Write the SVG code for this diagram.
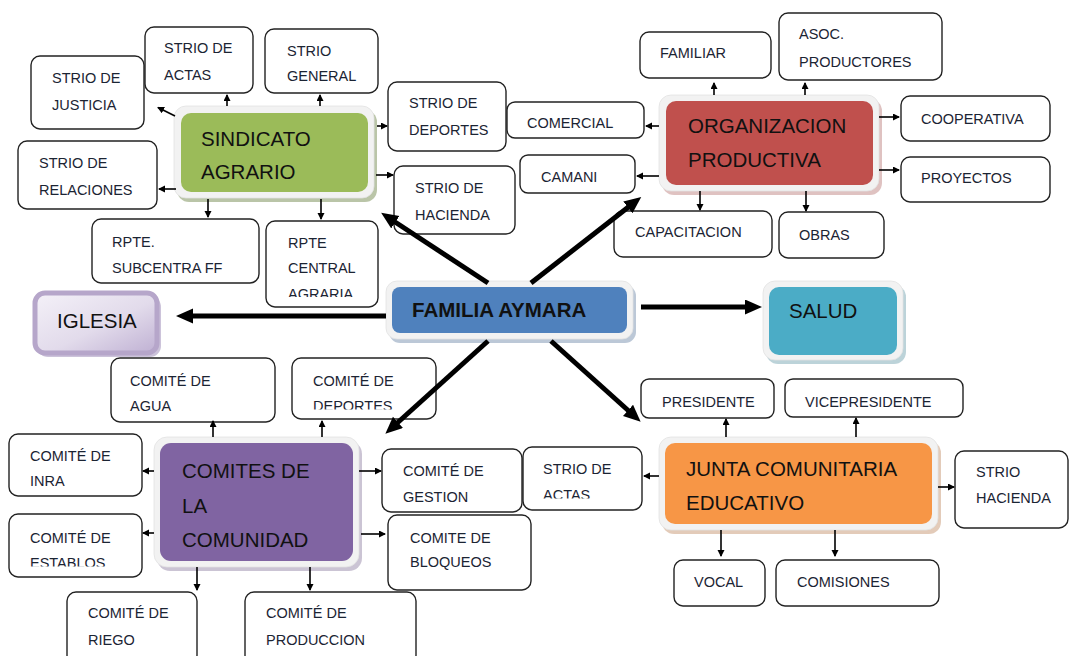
<svg xmlns="http://www.w3.org/2000/svg" width="1071" height="656" viewBox="0 0 1071 656">
<style>
.box{fill:#fff;stroke:#222;stroke-width:1.4}
.t{font-family:"Liberation Sans",Arial,sans-serif;font-size:14.5px;fill:#1b2433}
.m{font-family:"Liberation Sans",Arial,sans-serif;font-size:20.5px;fill:#111}
.frame{fill:#f2f2f2;stroke:#e2e2e2;stroke-width:0.8}
.sh{opacity:0.6}
.sa{stroke:#000;stroke-width:1.6;fill:none;marker-end:url(#sm)}
.ba{stroke:#000;stroke-width:5;fill:none;marker-end:url(#bm)}
</style>
<defs>
<marker id="sm" markerUnits="userSpaceOnUse" markerWidth="8" markerHeight="8" refX="6" refY="3.5" orient="auto"><path d="M0,0 L7,3.5 L0,7 z" fill="#000"/></marker>
<marker id="bm" markerUnits="userSpaceOnUse" markerWidth="18" markerHeight="16" refX="4" refY="7.5" orient="auto"><path d="M0,0 L17,7.5 L0,15 z" fill="#000"/></marker>
<linearGradient id="ig" x1="0" y1="0" x2="1" y2="1"><stop offset="0" stop-color="#f4f1f8"/><stop offset="0.55" stop-color="#e2dbeb"/><stop offset="1" stop-color="#bfb0d3"/></linearGradient>
<clipPath id="c1"><rect x="260" y="200" width="130" height="97"/></clipPath>
<clipPath id="c2"><rect x="290" y="350" width="150" height="59.5"/></clipPath>
<clipPath id="c3"><rect x="5" y="505" width="140" height="61.5"/></clipPath>
<clipPath id="c4"><rect x="520" y="440" width="125" height="58.5"/></clipPath>
</defs>

<!-- SINDICATO AGRARIO -->
<g id="sindicato">
<rect class="sh" x="177" y="110" width="200" height="92" rx="12" fill="#8c9e6e"/>
<rect class="frame" x="174" y="106" width="200" height="92" rx="12"/>
<rect x="181" y="113" width="187" height="79" rx="10" fill="#9bbb59"/>
<text class="m" x="201" y="146">SINDICATO</text>
<text class="m" x="201" y="179">AGRARIO</text>
</g>
<g id="s-justicia"><rect class="box" x="31" y="56" width="113" height="73" rx="9"/><text class="t" x="52" y="83">STRIO DE</text><text class="t" x="52" y="110">JUSTICIA</text></g>
<g id="s-actas"><rect class="box" x="145" y="27" width="108" height="66" rx="9"/><text class="t" x="164" y="53">STRIO DE</text><text class="t" x="164" y="80">ACTAS</text></g>
<g id="s-general"><rect class="box" x="265" y="29" width="113" height="64" rx="9"/><text class="t" x="287" y="56">STRIO</text><text class="t" x="287" y="81">GENERAL</text></g>
<g id="s-deportes"><rect class="box" x="388" y="82" width="118" height="69" rx="9"/><text class="t" x="409" y="108">STRIO DE</text><text class="t" x="409" y="135">DEPORTES</text></g>
<g id="s-relaciones"><rect class="box" x="18" y="141" width="139" height="68" rx="9"/><text class="t" x="39" y="168">STRIO DE</text><text class="t" x="39" y="195">RELACIONES</text></g>
<g id="s-hacienda"><rect class="box" x="394" y="166" width="121" height="68" rx="9"/><text class="t" x="415" y="193">STRIO DE</text><text class="t" x="415" y="220">HACIENDA</text></g>
<g id="s-subcentra"><rect class="box" x="92" y="219" width="167" height="64" rx="9"/><text class="t" x="112" y="247">RPTE.</text><text class="t" x="112" y="273">SUBCENTRA FF</text></g>
<g id="s-central"><rect class="box" x="266" y="221" width="112" height="86" rx="9"/><text class="t" x="288" y="248">RPTE</text><text class="t" x="288" y="273">CENTRAL</text><text class="t" x="288" y="299" clip-path="url(#c1)">AGRARIA</text></g>

<!-- ORGANIZACION PRODUCTIVA -->
<g id="organizacion">
<rect class="sh" x="662" y="99" width="220" height="96" rx="12" fill="#c99a98"/>
<rect class="frame" x="659" y="95" width="220" height="96" rx="12"/>
<rect x="666" y="101" width="207" height="84" rx="10" fill="#c0504d"/>
<text class="m" x="688" y="133">ORGANIZACION</text>
<text class="m" x="688" y="167">PRODUCTIVA</text>
</g>
<g id="o-familiar"><rect class="box" x="640" y="32" width="131" height="46" rx="9"/><text class="t" x="660" y="58">FAMILIAR</text></g>
<g id="o-asoc"><rect class="box" x="779" y="13" width="163" height="67" rx="9"/><text class="t" x="799" y="39">ASOC.</text><text class="t" x="799" y="67">PRODUCTORES</text></g>
<g id="o-comercial"><rect class="box" x="507" y="102" width="137" height="36" rx="8"/><text class="t" x="527" y="128">COMERCIAL</text></g>
<g id="o-camani"><rect class="box" x="520" y="155" width="115" height="38" rx="8"/><text class="t" x="541" y="182">CAMANI</text></g>
<g id="o-cooperativa"><rect class="box" x="901" y="96" width="149" height="45" rx="9"/><text class="t" x="921" y="124">COOPERATIVA</text></g>
<g id="o-proyectos"><rect class="box" x="901" y="157" width="149" height="45" rx="9"/><text class="t" x="921" y="183">PROYECTOS</text></g>
<g id="o-capacitacion"><rect class="box" x="614" y="211" width="158" height="46" rx="9"/><text class="t" x="635" y="237">CAPACITACION</text></g>
<g id="o-obras"><rect class="box" x="779" y="212" width="105" height="46" rx="9"/><text class="t" x="799" y="240">OBRAS</text></g>

<!-- FAMILIA AYMARA -->
<g id="familia">
<rect class="sh" x="389" y="285" width="247" height="58" rx="11" fill="#8fa3bd"/>
<rect class="frame" x="386" y="281" width="247" height="58" rx="11"/>
<rect x="392" y="287" width="235" height="46" rx="8" fill="#4f81bd"/>
<text class="m" x="412" y="317" font-weight="bold" font-size="21">FAMILIA AYMARA</text>
</g>

<!-- SALUD -->
<g id="salud">
<rect class="sh" x="766" y="285" width="140" height="79" rx="12" fill="#8fb5c0"/>
<rect class="frame" x="763" y="281" width="140" height="79" rx="12"/>
<rect x="769" y="287" width="128" height="68" rx="10" fill="#4bacc6"/>
<text class="m" x="789" y="318">SALUD</text>
</g>

<!-- IGLESIA -->
<g id="iglesia">
<rect x="37" y="296" width="124" height="61" rx="11" fill="#8e7bac" opacity="0.45"/>
<rect x="35" y="293" width="122" height="60" rx="10" fill="url(#ig)" stroke="#b6a6ca" stroke-width="5"/>
<text class="m" x="57" y="328">IGLESIA</text>
</g>

<!-- COMITES DE LA COMUNIDAD -->
<g id="comites">
<rect class="sh" x="157" y="441" width="205" height="130" rx="13" fill="#a89cb8"/>
<rect class="frame" x="154" y="437" width="205" height="130" rx="13"/>
<rect x="160" y="443" width="193" height="118" rx="11" fill="#8064a2"/>
<text class="m" x="182" y="478">COMITES DE</text>
<text class="m" x="182" y="513">LA</text>
<text class="m" x="182" y="547">COMUNIDAD</text>
</g>
<g id="c-agua"><rect class="box" x="111" y="358" width="164" height="64" rx="9"/><text class="t" x="130" y="386">COMITÉ DE</text><text class="t" x="130" y="411">AGUA</text></g>
<g id="c-deportes"><rect class="box" x="292" y="358" width="144" height="61" rx="9"/><text class="t" x="313" y="386">COMITÉ DE</text><text class="t" x="313" y="411" clip-path="url(#c2)">DEPORTES</text></g>
<g id="c-inra"><rect class="box" x="9" y="434" width="133" height="62" rx="9"/><text class="t" x="30" y="461">COMITÉ DE</text><text class="t" x="30" y="486">INRA</text></g>
<g id="c-establos"><rect class="box" x="9" y="514" width="133" height="63" rx="9"/><text class="t" x="30" y="543">COMITÉ DE</text><text class="t" x="30" y="568" clip-path="url(#c3)">ESTABLOS</text></g>
<g id="c-gestion"><rect class="box" x="382" y="449" width="140" height="63" rx="9"/><text class="t" x="403" y="476">COMITÉ DE</text><text class="t" x="403" y="502">GESTION</text></g>
<g id="c-bloqueos"><rect class="box" x="388" y="515" width="143" height="75" rx="9"/><text class="t" x="410" y="543">COMITE DE</text><text class="t" x="410" y="567">BLOQUEOS</text></g>
<g id="c-riego"><rect class="box" x="67" y="592" width="130" height="72" rx="9"/><text class="t" x="88" y="618">COMITÉ DE</text><text class="t" x="88" y="645">RIEGO</text></g>
<g id="c-produccion"><rect class="box" x="245" y="592" width="171" height="72" rx="9"/><text class="t" x="266" y="618">COMITÉ DE</text><text class="t" x="266" y="645">PRODUCCION</text></g>

<!-- JUNTA COMUNITARIA EDUCATIVO -->
<g id="junta">
<rect class="sh" x="662" y="441" width="279" height="93" rx="12" fill="#d0a88a"/>
<rect class="frame" x="659" y="437" width="279" height="93" rx="12"/>
<rect x="665" y="443" width="267" height="81" rx="10" fill="#f79646"/>
<text class="m" x="686" y="476">JUNTA COMUNITARIA</text>
<text class="m" x="686" y="510">EDUCATIVO</text>
</g>
<g id="j-presidente"><rect class="box" x="641" y="379" width="133" height="39" rx="8"/><text class="t" x="662" y="407">PRESIDENTE</text></g>
<g id="j-vicepresidente"><rect class="box" x="785" y="379" width="178" height="38" rx="8"/><text class="t" x="805" y="407">VICEPRESIDENTE</text></g>
<g id="j-actas"><rect class="box" x="523" y="447" width="119" height="63" rx="9"/><text class="t" x="543" y="474">STRIO DE</text><text class="t" x="543" y="500" clip-path="url(#c4)">ACTAS</text></g>
<g id="j-hacienda"><rect class="box" x="955" y="451" width="113" height="77" rx="9"/><text class="t" x="976" y="477">STRIO</text><text class="t" x="976" y="503">HACIENDA</text></g>
<g id="j-vocal"><rect class="box" x="674" y="560" width="91" height="46" rx="9"/><text class="t" x="694" y="587">VOCAL</text></g>
<g id="j-comisiones"><rect class="box" x="776" y="560" width="163" height="46" rx="9"/><text class="t" x="797" y="587">COMISIONES</text></g>

<!-- connectors -->
<g id="connectors">
<line class="sa" x1="175" y1="116" x2="158" y2="107.5"/>
<line class="sa" x1="227" y1="106" x2="227" y2="95"/>
<line class="sa" x1="320" y1="106" x2="320" y2="95"/>
<line class="sa" x1="377" y1="126" x2="387" y2="126"/>
<line class="sa" x1="176" y1="189" x2="159" y2="189"/>
<line class="sa" x1="376" y1="175" x2="393" y2="175"/>
<line class="sa" x1="208" y1="199" x2="208" y2="217"/>
<line class="sa" x1="321" y1="199" x2="321" y2="219"/>

<line class="sa" x1="714" y1="95" x2="714" y2="83"/>
<line class="sa" x1="805" y1="95" x2="805" y2="83"/>
<line class="sa" x1="659" y1="126" x2="646" y2="126"/>
<line class="sa" x1="659" y1="176" x2="637" y2="176"/>
<line class="sa" x1="879" y1="117" x2="899" y2="117"/>
<line class="sa" x1="879" y1="170" x2="899" y2="170"/>
<line class="sa" x1="700" y1="191" x2="700" y2="210"/>
<line class="sa" x1="806" y1="191" x2="806" y2="211"/>

<line class="sa" x1="213" y1="437" x2="213" y2="421"/>
<line class="sa" x1="322" y1="437" x2="322" y2="421"/>
<line class="sa" x1="154" y1="471" x2="143" y2="471"/>
<line class="sa" x1="154" y1="533" x2="143" y2="533"/>
<line class="sa" x1="359" y1="471" x2="381" y2="471"/>
<line class="sa" x1="361" y1="534" x2="385" y2="534"/>
<line class="sa" x1="197" y1="567" x2="197" y2="590"/>
<line class="sa" x1="310" y1="567" x2="310" y2="590"/>

<line class="sa" x1="726" y1="437" x2="726" y2="419"/>
<line class="sa" x1="856" y1="437" x2="856" y2="418"/>
<line class="sa" x1="659" y1="476" x2="644" y2="476"/>
<line class="sa" x1="938" y1="487" x2="954" y2="487"/>
<line class="sa" x1="721" y1="530" x2="721" y2="556"/>
<line class="sa" x1="835" y1="530" x2="835" y2="556"/>

<line class="ba" x1="488" y1="283" x2="392" y2="220"/>
<line class="ba" x1="531" y1="283" x2="631" y2="205"/>
<line class="ba" x1="386" y1="316" x2="189" y2="316"/>
<line class="ba" x1="641" y1="307" x2="749" y2="307"/>
<line class="ba" x1="488" y1="341" x2="395" y2="425"/>
<line class="ba" x1="551" y1="341" x2="631" y2="413"/>
</g>
</svg>
